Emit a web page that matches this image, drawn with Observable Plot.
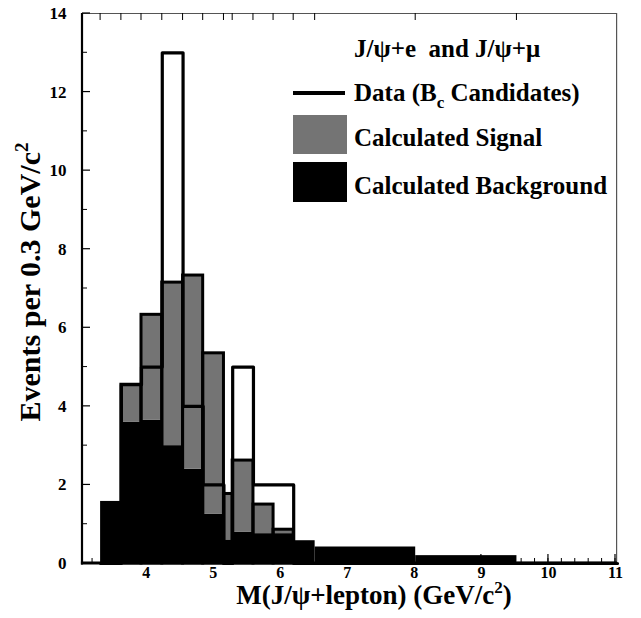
<!DOCTYPE html>
<html><head><meta charset="utf-8">
<script src="https://cdn.jsdelivr.net/npm/d3@7"></script>
<script src="https://cdn.jsdelivr.net/npm/@observablehq/plot@0.6"></script>
<style>body{margin:0;background:#fff} svg{display:block}</style>
</head><body><div id="chart"></div>
<script>
// Bin edges (GeV/c^2)
const binLo = [3.32, 3.63, 3.93, 4.24, 4.55, 4.85, 5.16, 5.29, 5.60, 5.90, 6.20, 6.52, 8.02, 9.53];
const binHi = [3.63, 3.93, 4.24, 4.55, 4.85, 5.16, 5.29, 5.60, 5.90, 6.20, 6.52, 8.02, 9.53, 11.03];
// Calculated background (black), calculated signal (stacked, grey), data (thick step outline)
const background = [1.58, 3.60, 3.65, 3.00, 2.40, 1.25, 0.60, 0.80, 0.76, 0.76, 0.58, 0.42, 0.20, 0.03];
const signal     = [0.00, 0.95, 2.68, 4.15, 4.93, 4.10, 1.17, 1.82, 0.74, 0.10, 0.00, 0.00, 0.00, 0.00];
const dataCounts = [0, 4.55, 5, 13, 4, 2, 0, 5, 2, 2, 0, 0, 0, 0];
// Axis ticks
const yTicksMajor = [0, 2, 4, 6, 8, 10, 12, 14];
const yTicksMinor = [1, 3, 5, 7, 9, 11, 13];
const xTicksMajor = [4, 5, 6, 7, 8, 9, 10, 11];
const xTicksMinor = d3.range(16, 56).map(i => i / 5);
const xDomain = [3.05, 11.03];
const yDomain = [0, 14];

const W = 641, H = 618, ML = 82, MR = 24, MT = 13, MB = 55;
const SIGNAL_GREY = "#747474";

const bins = binLo.map((lo, i) => ({
  lo, hi: binHi[i], bg: background[i], sig: signal[i],
  tot: background[i] + signal[i], data: dataCounts[i]
}));
const dataStep = [{x: binLo[0], y: 0}]
  .concat(bins.map(b => ({x: b.lo, y: b.data})))
  .concat([{x: binHi[binHi.length - 1], y: dataCounts[dataCounts.length - 1]}]);

const FONT = "'Liberation Serif', 'Times New Roman', serif";

const plot = Plot.plot({
  width: W, height: H,
  marginLeft: ML, marginRight: MR, marginTop: MT, marginBottom: MB,
  style: {fontFamily: FONT, fontSize: "17px", fontWeight: "bold", color: "black", background: "white"},
  x: {domain: xDomain},
  y: {domain: yDomain},
  marks: [
    Plot.rect(bins, {x1: "lo", x2: "hi", y1: d => 0, y2: "bg", fill: "black"}),
    Plot.rect(bins.filter(d => d.sig > 0), {x1: "lo", x2: "hi", y1: "bg", y2: "tot", fill: SIGNAL_GREY}),
    Plot.rect(bins.filter(d => d.sig > 0), {x1: "lo", x2: "hi", y1: d => 0, y2: "tot", fill: "none", stroke: "black", strokeWidth: 3}),
    Plot.line(dataStep, {x: "x", y: "y", curve: "step-after", stroke: "black", strokeWidth: 3.2}),
    Plot.axisY({ticks: yTicksMajor, tickSize: 0, tickPadding: 16, label: null, tickFormat: d => String(d)}),
    Plot.axisX({ticks: xTicksMajor, tickSize: 0, tickPadding: 3, label: null, tickFormat: d => String(d), fontSize: 16})
  ]
});

// Plot's own scales, with a mirror as fallback
const xMirror = d3.scaleLinear(xDomain, [ML, W - MR]);
const yMirror = d3.scaleLinear(yDomain, [H - MB, MT]);
let xs = null, ys = null;
try { xs = plot.scale("x"); ys = plot.scale("y"); } catch (e) {}
const X = v => { const r = xs && typeof xs.apply === "function" ? +xs.apply(v) : NaN; return Number.isFinite(r) ? r : xMirror(v); };
const Y = v => { const r = ys && typeof ys.apply === "function" ? +ys.apply(v) : NaN; return Number.isFinite(r) ? r : yMirror(v); };

const svg = d3.select(plot);

// frame and inward ticks, drawn as filled bars
const fr = svg.append("g").attr("stroke", "none");
function bar(x, y, w, h, col) {
  fr.append("rect").attr("x", x).attr("y", y).attr("width", Math.max(w, 0.01)).attr("height", Math.max(h, 0.01))
    .attr("fill", col || "black");
}
const fx0 = X(xDomain[0]), fx1 = X(xDomain[1]), fy0 = Y(yDomain[0]), fy1 = Y(yDomain[1]);
bar(fx0, fy1, fx1 - fx0, 1, "#555");                 // top border
bar(fx1 - 1, fy1, 1.2, fy0 - fy1, "#555");           // right border
yTicksMajor.forEach(v => bar(fx0, Y(v) - 0.6, 8, 1.2));
yTicksMinor.forEach(v => bar(fx0, Y(v) - 0.5, 5, 1));
xTicksMajor.forEach(v => bar(X(v) - 0.6, fy0 - 9, 1.2, 9));
xTicksMinor.forEach(v => bar(X(v) - 0.5, fy0 - 5, 1, 5));
binLo.forEach(v => bar(X(v) - 0.5, fy1, 1, 7));
bar(fx0 - 1.1, fy1, 2.2, fy0 - fy1 + 1.5);            // left axis line
bar(fx0 - 1.1, fy0 - 1.5, fx1 - fx0 + 1.1, 3);        // bottom axis line

// Legend
const lg = svg.append("g").attr("font-family", FONT).attr("font-weight", "bold").attr("font-size", 25)
  .attr("fill", "black").attr("text-anchor", "start");
lg.append("text").attr("x", 354).attr("y", 57).attr("xml:space", "preserve").text("J/\u03c8+e  and J/\u03c8+\u03bc");
lg.append("rect").attr("x", 293).attr("y", 91).attr("width", 52).attr("height", 4).attr("fill", "black");
const t2 = lg.append("text").attr("x", 354).attr("y", 101);
t2.append("tspan").text("Data (B");
t2.append("tspan").attr("font-size", 17).attr("dy", 7).text("c");
t2.append("tspan").attr("dy", -7).text(" Candidates)");
lg.append("rect").attr("x", 293).attr("y", 115).attr("width", 54).attr("height", 39).attr("fill", SIGNAL_GREY);
lg.append("text").attr("x", 354).attr("y", 146).text("Calculated Signal");
lg.append("rect").attr("x", 293).attr("y", 162).attr("width", 54).attr("height", 40).attr("fill", "black");
lg.append("text").attr("x", 354).attr("y", 194).text("Calculated Background");

// Axis titles
const xt = svg.append("text").attr("x", 374).attr("y", 604).attr("text-anchor", "middle")
  .attr("font-family", FONT).attr("font-weight", "bold").attr("font-size", 27);
xt.append("tspan").text("M(J/\u03c8+lepton) (GeV/c");
xt.append("tspan").attr("font-size", 17).attr("dy", -11).text("2");
xt.append("tspan").attr("dy", 11).text(")");

const yt = svg.append("text").attr("transform", "translate(40,282) rotate(-90)").attr("text-anchor", "middle")
  .attr("font-family", FONT).attr("font-weight", "bold").attr("font-size", 30);
yt.append("tspan").text("Events per 0.3 GeV/c");
yt.append("tspan").attr("font-size", 19).attr("dy", -12).text("2");

document.getElementById("chart").appendChild(plot);
</script>
</body></html>
